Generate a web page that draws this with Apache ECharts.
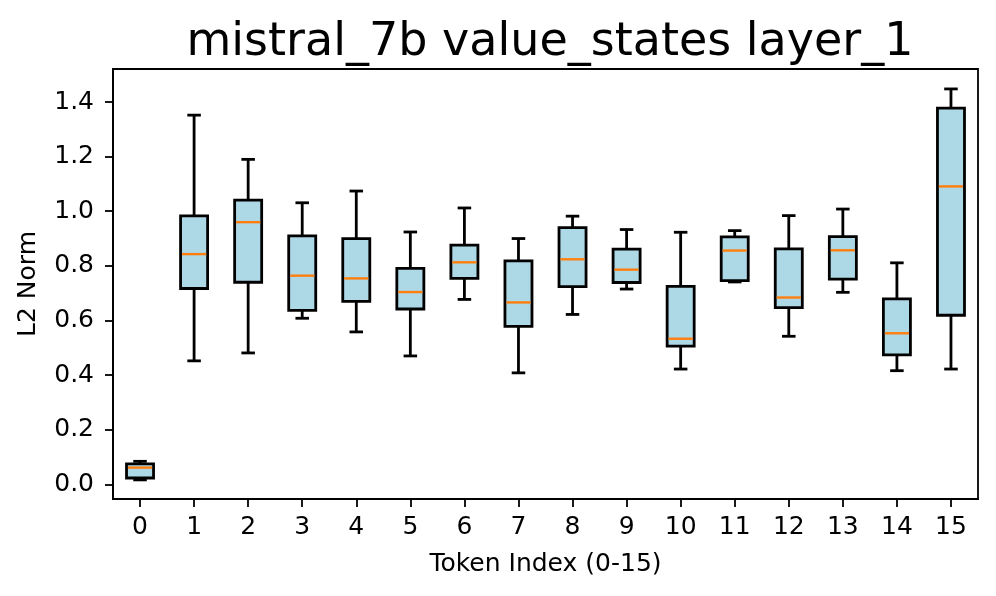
<!DOCTYPE html>
<html>
<head>
<meta charset="utf-8">
<script src="https://cdn.jsdelivr.net/npm/echarts@6/dist/echarts.min.js"></script>
<style>html,body{margin:0;padding:0;background:#fff;}#chart{width:996px;height:596px;}</style>
</head>
<body>
<div id="chart"></div>
<script>
const categories = ['0','1','2','3','4','5','6','7','8','9','10','11','12','13','14','15'];
const whiskerLow  = [0.016,0.452,0.481,0.608,0.558,0.470,0.677,0.408,0.622,0.715,0.422,0.741,0.542,0.703,0.416,0.422];
const quartile1   = [0.023,0.717,0.740,0.637,0.670,0.642,0.754,0.578,0.724,0.739,0.506,0.746,0.647,0.751,0.474,0.619];
const medians     = [0.061,0.843,0.960,0.764,0.754,0.704,0.813,0.666,0.824,0.786,0.533,0.856,0.684,0.857,0.553,1.091];
const quartile3   = [0.075,0.983,1.041,0.910,0.900,0.791,0.876,0.818,0.940,0.861,0.725,0.906,0.862,0.907,0.679,1.378];
const whiskerHigh = [0.084,1.352,1.190,1.031,1.074,0.924,1.012,0.900,0.982,0.933,0.923,0.929,0.984,1.008,0.811,1.448];
const yTicks = [0.0,0.2,0.4,0.6,0.8,1.0,1.2,1.4];

const data = categories.map((c,i)=>[i, whiskerLow[i], quartile1[i], medians[i], quartile3[i], whiskerHigh[i]]);

const FONT = 'DejaVu Sans';
const chart = echarts.init(document.getElementById('chart'), null, {renderer:'canvas'});

function renderItem(params, api) {
  const x = api.value(0);
  const band = api.size([1,0])[0];
  const bw = band * 0.5, cw = band * 0.25;
  const pLow = api.coord([x, api.value(1)]);
  const pQ1 = api.coord([x, api.value(2)]);
  const pMed = api.coord([x, api.value(3)]);
  const pQ3 = api.coord([x, api.value(4)]);
  const pHigh = api.coord([x, api.value(5)]);
  const cx = pQ1[0];
  const lw = 2.8;
  const lineStyle = {stroke:'#000', lineWidth:lw, fill:null};
  return {
    type:'group',
    children:[
      {type:'line', shape:{x1:cx,y1:pQ1[1],x2:cx,y2:pLow[1]}, style:lineStyle},
      {type:'line', shape:{x1:cx,y1:pQ3[1],x2:cx,y2:pHigh[1]}, style:lineStyle},
      {type:'line', shape:{x1:cx-cw/2,y1:pLow[1],x2:cx+cw/2,y2:pLow[1]}, style:lineStyle},
      {type:'line', shape:{x1:cx-cw/2,y1:pHigh[1],x2:cx+cw/2,y2:pHigh[1]}, style:lineStyle},
      {type:'rect', shape:{x:cx-bw/2,y:pQ3[1],width:bw,height:pQ1[1]-pQ3[1]}, style:{fill:'#add8e6', stroke:'#000', lineWidth:lw}},
      {type:'line', shape:{x1:cx-bw/2+1.4,y1:pMed[1],x2:cx+bw/2-1.4,y2:pMed[1]}, style:{stroke:'#ff7f0e', lineWidth:2.4}}
    ]
  };
}

chart.setOption({
  animation:false,
  backgroundColor:'#fff',
  title:{
    text:'mistral_7b value_states layer_1',
    left:545, textAlign:'center', top:15,
    textStyle:{fontFamily:FONT, fontSize:46, fontWeight:'normal', color:'#000'}
  },
  grid:{left:113, right:18, top:69, bottom:97, show:true, borderColor:'#000', borderWidth:1.8, backgroundColor:'transparent'},
  xAxis:{
    type:'category', data:categories, boundaryGap:true,
    name:'Token Index (0-15)', nameLocation:'middle', nameGap:53,
    nameTextStyle:{fontFamily:FONT, fontSize:25, color:'#000'},
    axisLine:{show:true, onZero:false, lineStyle:{color:'#000', width:1.8}},
    axisTick:{show:true, alignWithLabel:true, length:8, lineStyle:{color:'#000', width:1.8}},
    axisLabel:{fontFamily:FONT, fontSize:25, color:'#000', margin:16},
    splitLine:{show:false}
  },
  yAxis:{
    type:'value', min:-0.054, max:1.521,
    name:'L2 Norm', nameLocation:'middle', nameGap:72, nameRotate:90,
    nameTextStyle:{fontFamily:FONT, fontSize:25, color:'#000'},
    axisLine:{show:true, lineStyle:{color:'#000', width:1.8}},
    axisTick:{show:true, length:8, customValues:yTicks, lineStyle:{color:'#000', width:1.8}},
    axisLabel:{fontFamily:FONT, fontSize:25, color:'#000', margin:19, customValues:yTicks, formatter:v=>Number(v).toFixed(1)},
    splitLine:{show:false}
  },
  series:[{
    type:'custom',
    renderItem: renderItem,
    encode:{x:0, y:[1,2,3,4,5]},
    data:data,
    clip:false
  }]
});
</script>
</body>
</html>
